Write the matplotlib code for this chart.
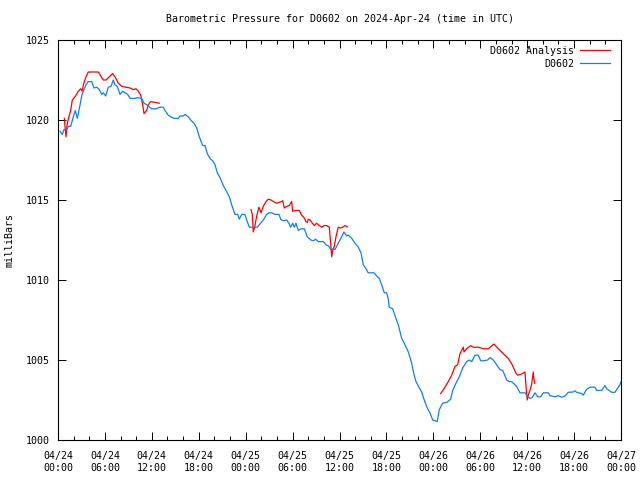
import numpy as np
import pandas as pd
import matplotlib
matplotlib.use('Agg')
import matplotlib.pyplot as plt
import matplotlib.dates as mdates
from matplotlib.lines import Line2D

# D0602 observations: hours after 2024-04-24 00:00 UTC, pressure (mb)
obs_hours = [0.26, 0.55, 0.77, 1.11, 1.32, 1.62, 1.96, 2.21, 2.47, 2.72, 3.03, 3.24, 3.58, 3.87,
             4.31, 4.60, 4.95, 5.28, 5.59, 5.79, 6.10, 6.43, 6.78, 7.07, 7.29, 7.58, 7.93, 8.27,
             8.57, 8.91, 9.21, 9.85, 10.14, 10.70, 11.00, 11.34, 11.98, 12.53, 13.04, 13.47,
             13.68, 14.10, 14.41, 14.83, 15.38, 15.60, 16.02, 16.24, 16.66, 16.97, 17.39, 17.74,
             18.07, 18.50, 18.80, 19.09, 19.44, 19.86, 20.08, 20.37, 20.72, 21.14, 21.48, 21.91,
             22.21, 22.63, 22.98, 23.18, 23.49, 23.91, 24.13, 24.46, 24.97, 25.49, 25.83, 26.25,
             26.69, 26.98, 27.33, 27.75, 28.26, 28.48, 28.81, 29.25, 29.58, 29.76, 30.01, 30.22,
             30.43, 30.73, 31.07, 31.50, 31.88, 32.35, 32.65, 32.95, 33.29, 33.93, 34.27, 34.65,
             34.91, 35.20, 35.42, 35.84, 36.28, 36.57, 36.92, 37.12, 37.56, 37.98, 38.40, 38.75,
             39.04, 39.39, 39.68, 40.41, 40.75, 41.09, 41.39, 41.73, 42.03, 42.24, 42.36, 42.80,
             43.22, 43.52, 43.95, 44.28, 44.80, 45.23, 45.52, 45.78, 46.16, 46.51, 46.80, 47.22,
             47.57, 47.92, 48.50, 48.76, 49.19, 49.71, 50.22, 50.47, 50.90, 51.32, 51.75, 52.26,
             52.60, 52.90, 53.32, 53.75, 54.05, 54.39, 54.95, 55.24, 55.67, 56.10, 56.52, 56.87,
             57.38, 57.71, 58.02, 58.44, 58.66, 59.08, 59.72, 60.01, 60.36, 60.65, 61.00, 61.34,
             61.73, 62.06, 62.70, 62.92, 63.55, 63.98, 64.41, 64.83, 65.26, 65.90, 66.11, 66.33,
             66.97, 67.17, 67.61, 68.03, 68.67, 68.89, 69.53, 69.95, 70.17, 70.81, 71.23, 71.65,
             71.87, 72.0]
obs_mb = [1019.3, 1019.1, 1019.4, 1019.4, 1019.6, 1019.6, 1020.2, 1020.6, 1020.1, 1020.7, 1021.5,
          1021.8, 1022.2, 1022.4, 1022.4, 1022.0, 1022.05, 1021.9, 1021.6, 1021.7, 1021.5, 1022.05,
          1022.1, 1022.5, 1022.2, 1022.1, 1021.6, 1021.8, 1021.7, 1021.6, 1021.35, 1021.35, 1021.4,
          1021.35, 1021.05, 1020.95, 1020.7, 1020.7, 1020.8, 1020.8, 1020.6, 1020.3, 1020.2, 1020.1,
          1020.1, 1020.25, 1020.25, 1020.35, 1020.2, 1020.0, 1019.8, 1019.5, 1018.95, 1018.4, 1018.4,
          1017.9, 1017.6, 1017.4, 1017.2, 1016.7, 1016.4, 1015.9, 1015.6, 1015.2, 1014.7, 1014.1,
          1014.1, 1013.8, 1014.1, 1014.1, 1013.75, 1013.3, 1013.3, 1013.3, 1013.5, 1013.75, 1014.1,
          1014.2, 1014.2, 1014.1, 1014.1, 1013.8, 1013.7, 1013.75, 1013.5, 1013.3, 1013.55, 1013.3,
          1013.55, 1013.1, 1013.2, 1013.2, 1012.7, 1012.5, 1012.45, 1012.55, 1012.4, 1012.4, 1012.2,
          1012.1, 1011.9, 1011.95, 1011.9, 1012.3, 1012.7, 1013.0, 1012.75, 1012.8, 1012.6, 1012.3,
          1012.05, 1011.7, 1010.95, 1010.7, 1010.45, 1010.45, 1010.25, 1010.1, 1009.7, 1009.2,
          1009.2, 1008.8, 1008.3, 1008.2, 1007.6, 1007.2, 1006.35, 1006.05, 1005.5, 1004.8, 1004.1,
          1003.65, 1003.3, 1003.0, 1002.55, 1002.0, 1001.7, 1001.25, 1001.15, 1001.9, 1002.3,
          1002.35, 1002.55, 1003.1, 1003.55, 1003.95, 1004.5, 1004.9, 1005.0, 1004.9, 1005.3, 1005.3,
          1004.95, 1004.95, 1005.0, 1005.15, 1005.0, 1004.7, 1004.4, 1004.35, 1003.75, 1003.65,
          1003.65, 1003.45, 1003.35, 1002.95, 1002.95, 1002.75, 1002.6, 1002.65, 1002.95, 1002.7,
          1002.7, 1002.95, 1002.95, 1002.77, 1002.7, 1002.77, 1002.67, 1002.75, 1002.98, 1003.0,
          1003.08, 1002.98, 1002.9, 1002.8, 1003.17, 1003.3, 1003.3, 1003.1, 1003.1, 1003.4, 1003.2,
          1002.98, 1002.98, 1003.3, 1003.45, 1003.65]

# D0602 Analysis, three separate pieces
ana1_hours = [0.81, 0.90, 1.02, 1.19, 1.45, 1.62, 1.83, 2.17, 2.60, 2.90, 3.11, 3.24, 3.58, 3.87,
              5.15, 5.79, 6.14, 6.56, 6.99, 7.29, 7.71, 8.15, 8.70, 9.21, 9.63, 9.97, 10.27,
              10.58, 10.83, 11.00, 11.34, 11.55, 11.85, 12.40, 12.95]
ana1_mb = [1020.1, 1019.6, 1018.95, 1019.8, 1020.3, 1020.6, 1021.25, 1021.45, 1021.8, 1021.95,
           1021.8, 1022.2, 1022.7, 1023.0, 1023.0, 1022.5, 1022.5, 1022.7, 1022.9, 1022.7, 1022.3,
           1022.1, 1022.05, 1022.0, 1021.9, 1021.95, 1021.8, 1021.55, 1020.95, 1020.4, 1020.6,
           1020.95, 1021.15, 1021.1, 1021.05]
ana2_hours = [24.68, 24.85, 24.97, 25.19, 25.41, 25.70, 25.96, 26.25, 26.60, 26.89, 27.24, 27.53,
              27.97, 28.30, 28.73, 28.94, 29.25, 29.58, 29.88, 30.01, 30.52, 30.86, 31.16, 31.46,
              31.71, 31.88, 32.01, 32.23, 32.52, 32.78, 33.08, 33.41, 33.72, 34.02, 34.36, 34.69,
              34.87, 35.00, 35.13, 35.33, 35.55, 35.84, 36.15, 36.41, 36.70, 36.99]
ana2_mb = [1014.4, 1014.1, 1013.0, 1013.4, 1014.0, 1014.55, 1014.2, 1014.6, 1014.9, 1015.05, 1015.0,
           1014.9, 1014.8, 1014.85, 1014.95, 1014.5, 1014.6, 1014.65, 1014.9, 1014.3, 1014.35,
           1014.35, 1014.05, 1013.9, 1013.65, 1013.6, 1013.8, 1013.75, 1013.55, 1013.4, 1013.55,
           1013.4, 1013.3, 1013.4, 1013.4, 1013.3, 1012.3, 1011.45, 1011.85, 1012.1, 1012.7, 1013.3,
           1013.25, 1013.3, 1013.4, 1013.33]
ana3_hours = [48.94, 49.36, 49.91, 50.35, 50.77, 51.11, 51.41, 51.62, 51.83, 51.92, 52.26, 52.77,
              53.11, 53.75, 54.39, 55.03, 55.75, 56.30, 56.94, 57.58, 58.09, 58.53, 58.79, 59.21,
              59.72, 59.85, 60.01, 60.14, 60.36, 60.58, 60.78, 60.87, 60.96]
ana3_mb = [1002.9, 1003.2, 1003.65, 1004.05, 1004.6, 1004.7, 1005.4, 1005.6, 1005.8, 1005.5, 1005.7,
           1005.9, 1005.8, 1005.8, 1005.7, 1005.7, 1006.0, 1005.7, 1005.4, 1005.1, 1004.7, 1004.2,
           1004.05, 1004.1, 1004.25, 1003.35, 1002.5, 1002.8, 1003.1, 1003.5, 1004.25, 1003.8,
           1003.55]

start = pd.Timestamp('2024-04-24 00:00')


def to_time(hours):
    return start + pd.to_timedelta(np.array(hours), unit='h')


RED = '#ff0000'
BLUE = '#1080f0'
FONT = 'DejaVu Sans Mono'
FS = 7.2

fig = plt.figure(figsize=(6.4, 4.8), dpi=100)
ax = fig.add_axes([58 / 640, 40 / 480, 563 / 640, 400 / 480])

for hrs, mb in [(ana1_hours, ana1_mb), (ana2_hours, ana2_mb), (ana3_hours, ana3_mb)]:
    ax.plot(to_time(hrs), mb, color=RED, lw=0.9)
ax.plot(to_time(obs_hours), obs_mb, color=BLUE, lw=0.9)

ax.set_xlim(start, start + pd.Timedelta(hours=72))
ax.set_ylim(1000, 1025)
ax.set_yticks([1000, 1005, 1010, 1015, 1020, 1025])
ax.xaxis.set_major_locator(mdates.HourLocator(byhour=[0, 6, 12, 18]))
ax.xaxis.set_minor_locator(mdates.HourLocator(interval=2))
ax.xaxis.set_major_formatter(mdates.DateFormatter('%m/%d\n%H:%M'))

ax.tick_params(which='major', direction='in', length=6, width=0.7,
               top=True, right=True, labelsize=FS, pad=6)
ax.tick_params(which='minor', direction='in', length=3, width=0.7, top=True, right=False)
ax.tick_params(axis='x', which='major', pad=8)
for lab in ax.get_xticklabels() + ax.get_yticklabels():
    lab.set_family(FONT)
for sp in ax.spines.values():
    sp.set_linewidth(0.8)

ax.set_title('Barometric Pressure for D0602 on 2024-Apr-24 (time in UTC)',
             fontsize=FS, family=FONT, pad=13)
fig.text(10 / 640, 0.5, 'milliBars', rotation=90, ha='center', va='center',
         fontsize=FS, family=FONT)

handles = [Line2D([], [], color=RED, lw=0.9), Line2D([], [], color=BLUE, lw=0.9)]
ax.legend(handles, ['D0602 Analysis', 'D0602'], loc='upper right', frameon=False,
          markerfirst=False, prop={'family': FONT, 'size': FS}, handlelength=3.0,
          handletextpad=0.6, labelspacing=0.3, borderaxespad=0.2,
          bbox_to_anchor=(0.992, 1.0))

fig.savefig('out.png', dpi=100)
